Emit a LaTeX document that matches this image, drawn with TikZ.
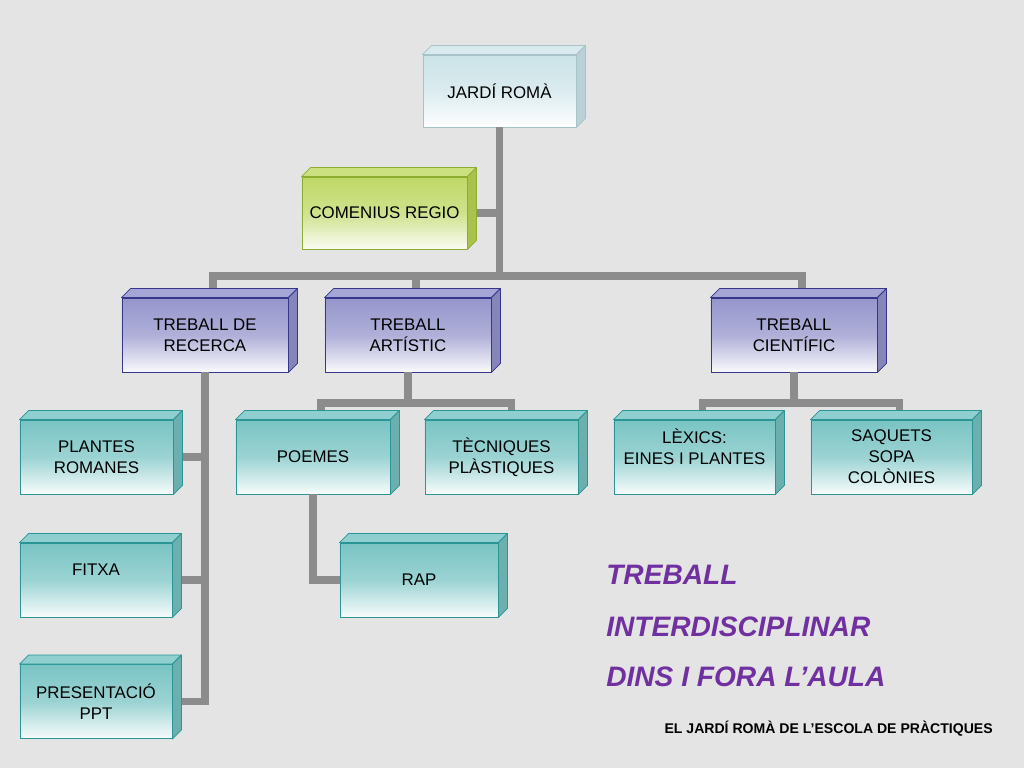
\documentclass[tikz,border=0pt]{standalone}
\usepackage{fontspec}
\setmainfont{Liberation Sans}
\usetikzlibrary{shapes, positioning}
\definecolor{slide}{HTML}{E4E4E4}
\definecolor{linkgray}{HTML}{8C8C8C}
\definecolor{titlepurple}{HTML}{7030A0}
\definecolor{roottop}{HTML}{CBE3E8}
\definecolor{rootline}{HTML}{A7C3C8}
\definecolor{rootside}{HTML}{BAD1D5}
\definecolor{rootface}{HTML}{D8EAED}
\definecolor{regiotop}{HTML}{BFD867}
\definecolor{regioline}{HTML}{8EAC2F}
\definecolor{regioside}{HTML}{A9C24B}
\definecolor{regioface}{HTML}{CBE07E}
\definecolor{areatop}{HTML}{9595CC}
\definecolor{arealine}{HTML}{36368C}
\definecolor{areaside}{HTML}{8585BA}
\definecolor{areaface}{HTML}{A6A6D6}
\definecolor{tasktop}{HTML}{7AC4C4}
\definecolor{taskline}{HTML}{2B9595}
\definecolor{taskside}{HTML}{6BAFAF}
\definecolor{taskface}{HTML}{8FCFCF}
\tikzstyle{card} = [rectangle, inner sep = 0, align = center,
  line width = 0.6pt, minimum height = 1.85cm,
  font = \fontsize{12}{15}\selectfont]
\tikzstyle{root} = [card, draw = rootline, top color = roottop,
  bottom color = white, middle color = roottop!70!white]
\tikzstyle{regio} = [card, draw = regioline, top color = regiotop,
  bottom color = regiotop!8!white, middle color = regiotop!75!white]
\tikzstyle{area} = [card, draw = arealine, top color = areatop,
  bottom color = areatop!6!white, middle color = areatop!75!white]
\tikzstyle{task} = [card, draw = taskline, top color = tasktop,
  bottom color = tasktop!6!white, middle color = tasktop!75!white]
\tikzstyle{link} = [draw = linkgray, line width = 5pt]
\tikzstyle{headline} = [anchor = base west, inner sep = 0, text = titlepurple,
  font = \fontsize{20}{24}\selectfont\bfseries\itshape]

\begin{document}
\begin{tikzpicture}[x = 0.025cm, y = -0.025cm]
    \fill [slide] (0, 0) rectangle (1024, 768);
    \useasboundingbox (0, 0) rectangle (1024, 768);

    \node [root, minimum width = 3.825cm, minimum height = 1.8cm] (jardi) at (499.5, 91) {JARDÍ ROMÀ};
    \node [regio, minimum width = 4.125cm, minimum height = 1.8cm] (comenius) at (384.5, 213) {COMENIUS REGIO};
    \node [area, minimum width = 4.15cm] (recerca) at (205, 335) {TREBALL DE\\RECERCA};
    \node [area, minimum width = 4.15cm] (artistic) at (408, 335) {TREBALL\\ARTÍSTIC};
    \node [area, minimum width = 4.15cm] (cientific) at (794, 335) {TREBALL\\CIENTÍFIC};
    \node [task, minimum width = 3.825cm] (plantes) at (96.5, 457) {PLANTES\\ROMANES};
    \node [task, minimum width = 3.8cm] (fitxa) at (96, 580) {FITXA\\~};
    \node [task, minimum width = 3.8cm] (presentacio) at (96, 701.5) {PRESENTACIÓ\\PPT};
    \node [task, minimum width = 3.85cm] (poemes) at (313, 457) {POEMES};
    \node [task, minimum width = 3.825cm] (tecniques) at (501.5, 457) {TÈCNIQUES\\PLÀSTIQUES};
    \node [task, minimum width = 3.95cm] (rap) at (419, 580) {RAP};
    \node [task, minimum width = 4.025cm] (lexics) at (694.5, 457) {LÈXICS:\\EINES I PLANTES\\~};
    \node [task, minimum width = 4.025cm] (saquets) at (891.5, 457) {SAQUETS\\SOPA\\COLÒNIES};

    \coordinate (bus) at (499.5, 276);
    \coordinate (artbus) at (408, 403);
    \coordinate (scibus) at (794, 403);

    \draw [link] (jardi.south) -- (bus);
    \draw [link] (comenius.east) -- (comenius.east -| jardi.south);
    \draw [link] ([xshift = 0.2cm]recerca.north) |- (bus) -| ([xshift = 0.2cm]cientific.north);
    \draw [link] ([xshift = 0.2cm]artistic.north) -- ([xshift = 0.2cm]artistic.north |- bus);
    \draw [link] (recerca.south) |- (presentacio.east);
    \draw [link] (plantes.east) -- (plantes.east -| recerca.south);
    \draw [link] (fitxa.east) -- (fitxa.east -| recerca.south);
    \draw [link] (artistic.south) -- (artbus);
    \draw [link] ([xshift = 0.2cm]poemes.north) |- (artbus) -| ([xshift = 0.25cm]tecniques.north);
    \draw [link] (poemes.south) |- (rap.west);
    \draw [link] (cientific.south) -- (scibus);
    \draw [link] ([xshift = 0.2cm]lexics.north) |- (scibus) -| ([xshift = 0.2cm]saquets.north);

    \foreach \n/\kind in {jardi/root, comenius/regio, recerca/area, artistic/area,
      cientific/area, plantes/task, fitxa/task, presentacio/task, poemes/task,
      tecniques/task, rap/task, lexics/task, saquets/task} {
      \draw [draw = \kind line, fill = \kind face, line width = 0.6pt, line join = round]
        (\n.north west) -- ++(9, -9) -- ([shift = {(9, -9)}]\n.north east) -- (\n.north east) -- cycle;
      \draw [draw = \kind line, fill = \kind side, line width = 0.6pt, line join = round]
        (\n.north east) -- ++(9, -9) -- ([shift = {(9, -9)}]\n.south east) -- (\n.south east) -- cycle;
    }

    \node [headline] (title-1) at (606, 584) {TREBALL};
    \node [headline] (title-2) at (606, 636) {INTERDISCIPLINAR};
    \node [headline] (title-3) at (606, 686) {DINS I FORA L’AULA};
    \node [anchor = base east, inner sep = 0, font = \fontsize{10}{12}\selectfont\bfseries]
      (footer) at (993, 733) {EL JARDÍ ROMÀ DE L’ESCOLA DE PRÀCTIQUES};
  \end{tikzpicture}
\end{document}
